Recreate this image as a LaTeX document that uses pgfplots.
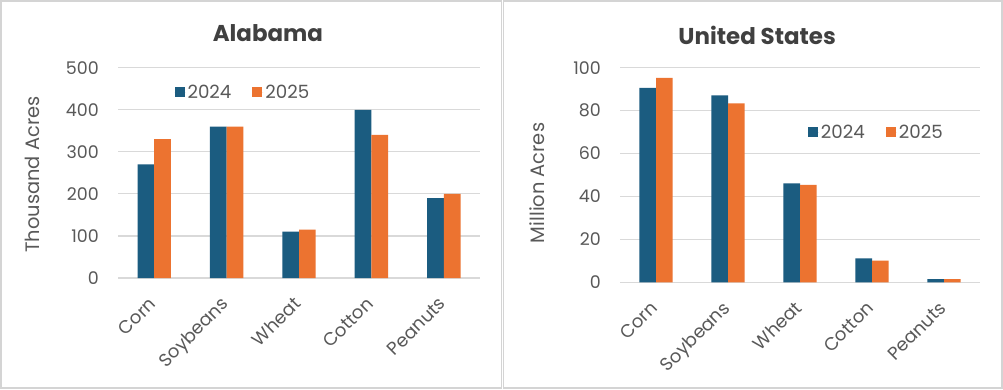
\documentclass[border=0pt]{standalone}
\usepackage{pgfplots}
\pgfplotsset{compat=1.18}
\usepackage{fontspec}
\setmainfont{Poppins}
\definecolor{cblue}{HTML}{1B5C80}
\definecolor{corange}{HTML}{EC7330}
\definecolor{tgray}{HTML}{595959}
\definecolor{ttitle}{HTML}{404040}
\definecolor{ggrid}{HTML}{D9D9D9}
\definecolor{bord}{HTML}{D4D4D4}
\pgfplotsset{
  panel/.style={
    scale only axis,
    anchor=south west,
    xmin=-0.5, xmax=4.5,
    xtick={0,1,2,3,4},
    xticklabels={Corn,Soybeans,Wheat,Cotton,Peanuts},
    ybar=0pt, bar width=16.7bp,
    axis line style={draw=none},
    major tick length=0pt,
    ymajorgrids, grid style={ggrid, line width=1.2bp},
    tick label style={text=tgray},
    yticklabel style={font=\fontsize{17.5}{20}\selectfont},
    /pgf/number format/assume math mode=true,
    yticklabel style={anchor=east, inner sep=0pt, xshift=-19bp},
    xticklabel style={font=\fontsize{18.2}{21}\selectfont, anchor=base east, inner sep=0pt, xshift=3bp, yshift=-27bp, rotate=45},
    title style={font=\fontsize{23}{27}\selectfont\bfseries, text=ttitle, anchor=center},
    legend style={draw=none, fill=none, font=\fontsize{18.3}{21}\selectfont, text=tgray,
      anchor=center, legend columns=2,
      /tikz/every even column/.append style={column sep=19bp}},
    legend image code/.code={\fill[##1] (0bp,-5bp) rectangle (10bp,5bp); \path (0bp,0bp) -- (11bp,0bp);},
  }
}
\begin{document}
\begin{tikzpicture}[x=1bp,y=1bp]
\useasboundingbox (0,0) rectangle (1003,389);
\fill[white] (0,0) rectangle (1003,389);
\draw[bord, line width=1.6bp] (1,1) rectangle (501.5,388);
\draw[bord, line width=1.6bp] (503.5,1) rectangle (1002,388);

\begin{axis}[panel,
  at={(118bp,111bp)}, width=362bp, height=210.3bp,
  ymin=0, ymax=500, ytick={0,100,200,300,400,500},
  title={Alabama}, title style={at={(axis description cs:0.414,1.135)}},
  ylabel={Thousand Acres},
  every axis y label/.style={at={(axis description cs:-0.2376,0.492)}, rotate=90, anchor=center,
    font=\fontsize{19.5}{22}\selectfont, text=tgray},
  legend style={at={(axis description cs:0.345,0.884)}},
]
\addplot[fill=cblue, draw=none] coordinates {(0,270) (1,360) (2,110) (3,400) (4,190)};
\addplot[fill=corange, draw=none] coordinates {(0,330) (1,360) (2,115) (3,340) (4,200)};
\legend{2024,2025}
\end{axis}

\begin{axis}[panel,
  at={(620bp,106.7bp)}, width=360bp, height=214.6bp,
  ymin=0, ymax=100, ytick={0,20,40,60,80,100},
  title={United States}, title style={at={(axis description cs:0.381,1.123)}},
  ylabel={Million Acres},
  every axis y label/.style={at={(axis description cs:-0.231,0.463)}, rotate=90, anchor=center,
    font=\fontsize{19.5}{22}\selectfont, text=tgray},
  legend style={at={(axis description cs:0.712,0.70)}},
]
\addplot[fill=cblue, draw=none] coordinates {(0,90.6) (1,87.1) (2,46.1) (3,11.2) (4,1.5)};
\addplot[fill=corange, draw=none] coordinates {(0,95.3) (1,83.4) (2,45.4) (3,10.1) (4,1.5)};
\legend{2024,2025}
\end{axis}
\end{tikzpicture}
\end{document}
